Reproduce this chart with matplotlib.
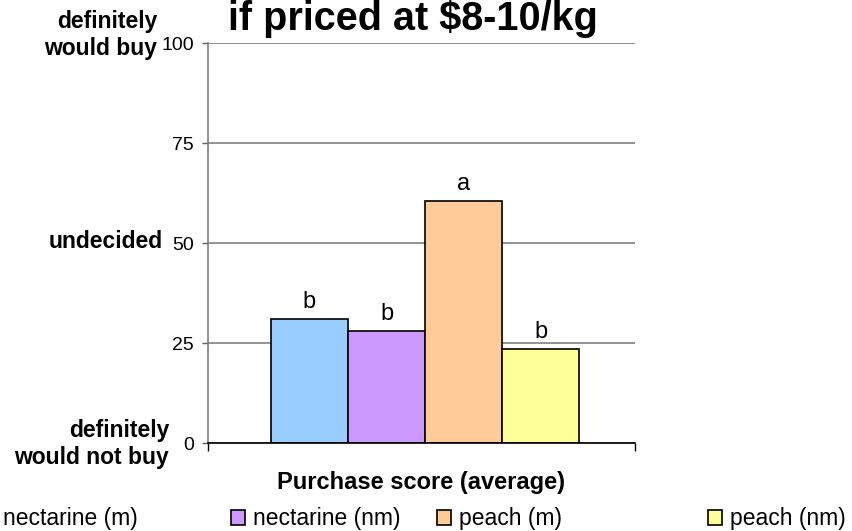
import matplotlib
matplotlib.use("Agg")
import matplotlib.pyplot as plt
from matplotlib.patches import Patch

plt.rcParams['font.family'] = ['Liberation Sans', 'DejaVu Sans']

# data
groups = ['nectarine (m)', 'nectarine (nm)', 'peach (m)', 'peach (nm)']
scores = [31.0, 28.0, 60.5, 23.6]
letters = ['b', 'b', 'a', 'b']
colors = ['#99CCFF', '#CC99FF', '#FFCC99', '#FFFF99']
yticks = [0, 25, 50, 75, 100]

W, H = 852, 531
fig = plt.figure(figsize=(W / 100, H / 100), dpi=100)
ax = fig.add_axes([208 / W, 1 - 443 / H, 427 / W, 400 / H])

xs = list(range(len(groups)))
bars = ax.bar(xs, scores, width=1.0, color=colors, edgecolor='black', linewidth=1.2, zorder=3)
for x, v, t in zip(xs, scores, letters):
    ax.text(x, v + 1.5, t, ha='center', va='bottom', fontsize=17)

ax.set_ylim(0, 100)
ax.set_xlim(-1.318, 4.227)
ax.set_yticks(yticks)
ax.set_yticklabels([str(t) for t in yticks], fontsize=14)
ax.yaxis.grid(True, color='#808080', linewidth=1.2, zorder=0)
ax.set_axisbelow(True)
ax.tick_params(axis='y', length=4, width=1, color='#606060', pad=6)

ax.set_xticks([-1.318, 4.227])
ax.set_xticklabels(['', ''])
ax.tick_params(axis='x', length=6, width=1, color='black')

for s in ['top', 'right']:
    ax.spines[s].set_visible(False)
ax.spines['left'].set_color('#808080')
ax.spines['left'].set_linewidth(1.2)
ax.spines['bottom'].set_color('black')
ax.spines['bottom'].set_linewidth(1.2)
ax.spines['bottom'].set_zorder(4)

ax.set_xlabel('Purchase score (average)', fontsize=17, fontweight='bold')
ax.xaxis.set_label_coords(0.5, -0.07)

# title (kept just inside the top edge)
fig.text(413 / W, 1 - 30 / H, 'if priced at $8-10/kg', ha='center', va='baseline',
         fontsize=28.5, fontweight='bold')

# scale words beside the y axis
fig.text(157 / W, 1 - 35 / H, 'definitely\nwould buy', ha='right', va='center',
         multialignment='right', fontsize=16.5, fontweight='bold', linespacing=1.25)
fig.text(163 / W, 1 - 241 / H, 'undecided', ha='right', va='center',
         fontsize=16.5, fontweight='bold')
fig.text(169 / W, 1 - 444 / H, 'definitely\nwould not buy', ha='right', va='center',
         multialignment='right', fontsize=16.5, fontweight='bold', linespacing=1.25)

# legend entries laid out like the original (first marker is cut off)
leg_x = [-19, 231, 437, 708]
for g, c, lx in zip(groups, colors, leg_x):
    h = Patch(facecolor=c, edgecolor='black', linewidth=1.2)
    lg = fig.legend([h], [g], loc='center left', bbox_to_anchor=(lx / W, 1 - 519 / H),
                    frameon=False, fontsize=16.5, borderpad=0, borderaxespad=0,
                    handlelength=0.6, handleheight=0.6, handletextpad=0.35)

fig.savefig('out.png', dpi=100)
